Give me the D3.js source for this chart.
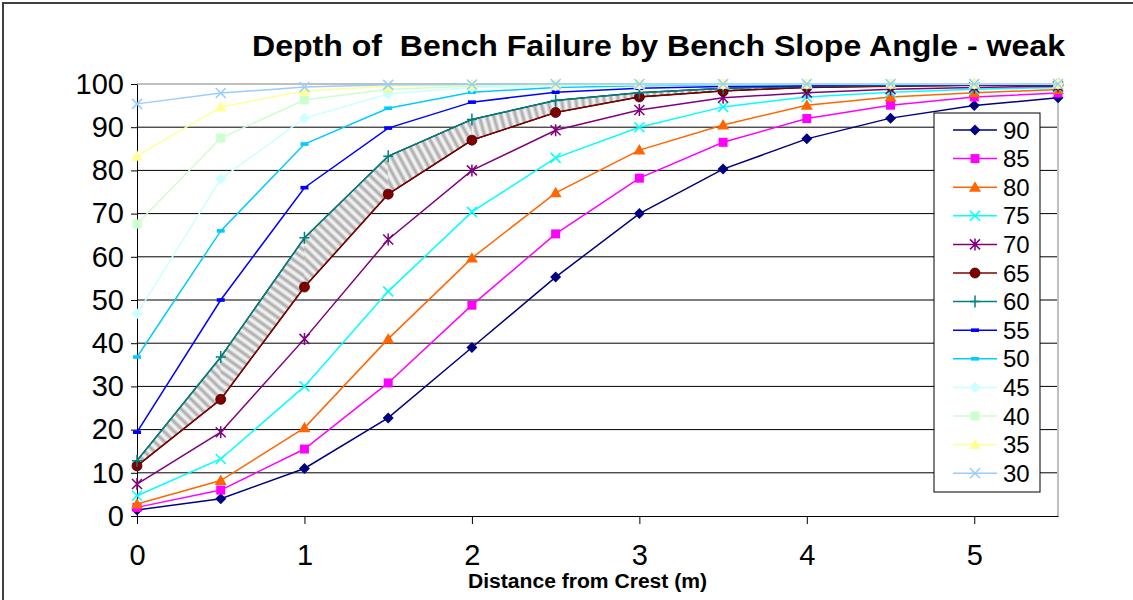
<!DOCTYPE html>
<html>
<head>
<meta charset="utf-8">
<script src="https://cdn.jsdelivr.net/npm/d3@7"></script>
<style>
  body { margin: 0; background: #fff; }
  text { font-family: "Liberation Sans", Arial, sans-serif; }
</style>
</head>
<body>
<div id="chart"></div>
<script>
// distance from crest (m)
let distances = [0, 0.5, 1, 1.5, 2, 2.5, 3, 3.5, 4, 4.5, 5, 5.5];
let xTicks = [0, 1, 2, 3, 4, 5];
let yTicks = [0, 10, 20, 30, 40, 50, 60, 70, 80, 90, 100];

// depth of failure (%) per bench slope angle
let s90 = [1.4, 4, 11, 22.7, 39, 55.3, 70, 80.3, 87.3, 92.1, 95, 96.8];
let s85 = [2, 6, 15.5, 30.8, 48.8, 65.3, 78.2, 86.5, 92, 95.1, 97, 97.9];
let s80 = [2.8, 8.2, 20.4, 41, 59.7, 74.8, 84.7, 90.5, 95.1, 97, 98, 98.7];
let s75 = [4.7, 13.2, 30, 52, 70.4, 82.9, 90, 94.7, 97, 98.1, 98.8, 99.2];
let s70 = [7.4, 19.4, 41, 64, 80, 89.3, 94, 96.8, 98, 98.8, 99.2, 99.5];
let s65 = [11.6, 27, 53, 74.5, 87, 93.4, 97, 98.4, 99.2, 99.5, 99.7, 99.8];
let s60 = [12.8, 36.8, 64.4, 83.3, 91.8, 96.2, 98, 99, 99.5, 99.7, 99.8, 99.9];
let s55 = [19.4, 50, 76, 89.8, 95.8, 98.1, 99, 99.4, 99.6, 99.8, 99.9, 99.9];
let s50 = [36.8, 66, 86.1, 94.4, 98.1, 99.2, 99.6, 99.8, 99.9, 99.9, 100, 100];
let s45 = [46.8, 78, 92.1, 97.7, 99.2, 99.6, 99.8, 99.9, 100, 100, 100, 100];
let s40 = [67.6, 87.5, 96.3, 98.8, 99.5, 99.8, 99.9, 100, 100, 100, 100, 100];
let s35 = [83.3, 94.7, 98.4, 99.5, 99.8, 99.9, 100, 100, 100, 100, 100, 100];
let s30 = [95.4, 97.9, 99.3, 99.8, 99.9, 100, 100, 100, 100, 100, 100, 100];

let seriesNames = ["90", "85", "80", "75", "70", "65", "60", "55", "50", "45", "40", "35", "30"];
let seriesValues = [s90, s85, s80, s75, s70, s65, s60, s55, s50, s45, s40, s35, s30];
let seriesColors = ["#000080", "#ff00ff", "#ff6600", "#00ffff", "#800080", "#800000", "#008080",
                    "#0000ff", "#00ccff", "#ccffff", "#ccffcc", "#ffff99", "#99ccff"];
let seriesMarkers = ["diamond", "square", "triangle", "x", "star", "circle", "plus",
                     "dash", "dash", "diamond", "square", "triangle", "x"];

let W = 1133, H = 600;
let plot = {left: 137, right: 1058, top: 84, bottom: 516};

let svg = d3.select("#chart").append("svg")
    .attr("width", W)
    .attr("height", H);

// outer frame
svg.append("rect")
    .attr("x", 3).attr("y", 3)
    .attr("width", W + 20).attr("height", H + 20)
    .attr("fill", "#fff")
    .attr("stroke", "#404040")
    .attr("stroke-width", 2);

let x = d3.scaleLinear().domain([0, 5.5]).range([plot.left, plot.right]);
let y = d3.scaleLinear().domain([0, 100]).range([plot.bottom, plot.top]);

// gridlines
svg.append("g")
    .selectAll("line")
    .data(yTicks.slice(1, -1))
    .enter()
    .append("line")
    .attr("x1", plot.left).attr("x2", plot.right)
    .attr("y1", d => y(d)).attr("y2", d => y(d))
    .attr("stroke", "#000")
    .attr("stroke-width", 1);

// plot area border (top / right)
svg.append("path")
    .attr("d", "M" + plot.left + "," + y(100) + "H" + plot.right + "V" + y(0))
    .attr("fill", "none")
    .attr("stroke", "#c0c0c0")
    .attr("stroke-width", 2);

// hatched band between 60 and 65 degree curves
let defs = svg.append("defs");
let grad = defs.append("linearGradient").attr("id", "stripeGrad");
grad.append("stop").attr("offset", "0%").attr("stop-color", "#ffffff");
grad.append("stop").attr("offset", "50%").attr("stop-color", "#a8a8a8");
grad.append("stop").attr("offset", "100%").attr("stop-color", "#ffffff");

let band = svg.append("g");
for (let i = 0; i < distances.length - 1; i++) {
    let mx0 = x(distances[i]), mx1 = x(distances[i + 1]);
    let my0 = (y(s60[i]) + y(s65[i])) / 2, my1 = (y(s60[i + 1]) + y(s65[i + 1])) / 2;
    let ang = Math.atan2(my1 - my0, mx1 - mx0) * 180 / Math.PI;
    let pat = defs.append("pattern")
        .attr("id", "band" + i)
        .attr("patternUnits", "userSpaceOnUse")
        .attr("width", 7).attr("height", 7)
        .attr("patternTransform", "rotate(" + ang + ")");
    pat.append("rect").attr("width", 7).attr("height", 7).attr("fill", "url(#stripeGrad)");
    let pts = [[mx0, y(s60[i])], [mx1, y(s60[i + 1])], [mx1, y(s65[i + 1])], [mx0, y(s65[i])]];
    band.append("path")
        .attr("d", "M" + pts.join("L") + "Z")
        .attr("fill", "url(#band" + i + ")")
        .attr("stroke", "url(#band" + i + ")")
        .attr("stroke-width", 0.5);
}
let bandArea = d3.area()
    .x((d, i) => x(distances[i]))
    .y0((d, i) => y(s65[i]))
    .y1(d => y(d));
svg.append("path")
    .datum(s60)
    .attr("d", bandArea)
    .attr("fill", "none")
    .attr("stroke", "#000")
    .attr("stroke-width", 1.2);

// axes
let yAxis = svg.append("g")
    .attr("transform", "translate(" + plot.left + ",0)")
    .call(d3.axisLeft(y).tickValues(yTicks).tickSize(6).tickPadding(7).tickSizeOuter(0));
yAxis.select(".domain").attr("stroke", "#000");
yAxis.selectAll("text").style("font-size", "29px").attr("fill", "#000");

let xAxis = svg.append("g")
    .attr("transform", "translate(0," + plot.bottom + ")")
    .call(d3.axisBottom(x).tickValues(xTicks).tickFormat(d3.format("d"))
        .tickSize(8).tickPadding(20).tickSizeOuter(0));
xAxis.select(".domain").attr("stroke", "#000");
xAxis.selectAll("text").style("font-size", "29px").attr("fill", "#000");

// markers
function drawMarker(g, type, color) {
    if (type == "diamond") {
        g.append("path").attr("d", "M0,-5.5L5.5,0L0,5.5L-5.5,0Z").attr("fill", color);
    } else if (type == "square") {
        g.append("rect").attr("x", -4.5).attr("y", -4.5).attr("width", 9).attr("height", 9).attr("fill", color);
    } else if (type == "triangle") {
        g.append("path").attr("d", "M0,-6L6,4.5L-6,4.5Z").attr("fill", color);
    } else if (type == "x") {
        g.append("path").attr("d", "M-5,-5L5,5M-5,5L5,-5").attr("stroke", color).attr("stroke-width", 1.5);
    } else if (type == "star") {
        g.append("path").attr("d", "M-5,-5L5,5M-5,5L5,-5M0,-6V6").attr("stroke", color).attr("stroke-width", 1.5);
    } else if (type == "circle") {
        g.append("circle").attr("r", 5).attr("fill", color).attr("stroke", "#400000").attr("stroke-width", 0.8);
    } else if (type == "plus") {
        g.append("path").attr("d", "M-5,0H5M0,-6V6").attr("stroke", color).attr("stroke-width", 1.5);
    } else if (type == "dash") {
        g.append("rect").attr("x", -4).attr("y", -1.8).attr("width", 8).attr("height", 3.6).attr("fill", color);
    }
}

let line = d3.line()
    .x((d, i) => x(distances[i]))
    .y(d => y(d));

seriesValues.forEach(function (vals, k) {
    let g = svg.append("g");
    g.append("path")
        .datum(vals)
        .attr("d", line)
        .attr("fill", "none")
        .attr("stroke", seriesColors[k])
        .attr("stroke-width", 1.5);
    vals.forEach(function (v, i) {
        let m = g.append("g").attr("transform", "translate(" + x(distances[i]) + "," + y(v) + ")");
        drawMarker(m, seriesMarkers[k], seriesColors[k]);
    });
});

// legend
let legend = svg.append("g");
legend.append("rect")
    .attr("x", 934).attr("y", 113)
    .attr("width", 106).attr("height", 379)
    .attr("fill", "#fff")
    .attr("stroke", "#000")
    .attr("stroke-width", 1);

seriesNames.forEach(function (name, k) {
    let ly = 130 + k * 28.6;
    let item = legend.append("g").attr("transform", "translate(0," + ly + ")");
    item.append("line")
        .attr("x1", 953).attr("x2", 997)
        .attr("stroke", seriesColors[k])
        .attr("stroke-width", 1.5);
    drawMarker(item.append("g").attr("transform", "translate(975,0)"), seriesMarkers[k], seriesColors[k]);
    item.append("text")
        .attr("x", 1003)
        .attr("dy", "0.36em")
        .style("font-size", "24px")
        .text(name);
});

// titles
svg.append("text")
    .attr("x", 252).attr("y", 56)
    .attr("textLength", 813)
    .attr("lengthAdjust", "spacingAndGlyphs")
    .style("font-size", "30px")
    .style("font-weight", "bold")
    .attr("xml:space", "preserve")
    .text("Depth of  Bench Failure by Bench Slope Angle - weak");

svg.append("text")
    .attr("x", 468).attr("y", 588)
    .attr("textLength", 239)
    .attr("lengthAdjust", "spacingAndGlyphs")
    .style("font-size", "20px")
    .style("font-weight", "bold")
    .text("Distance from Crest (m)");
</script>
</body>
</html>
